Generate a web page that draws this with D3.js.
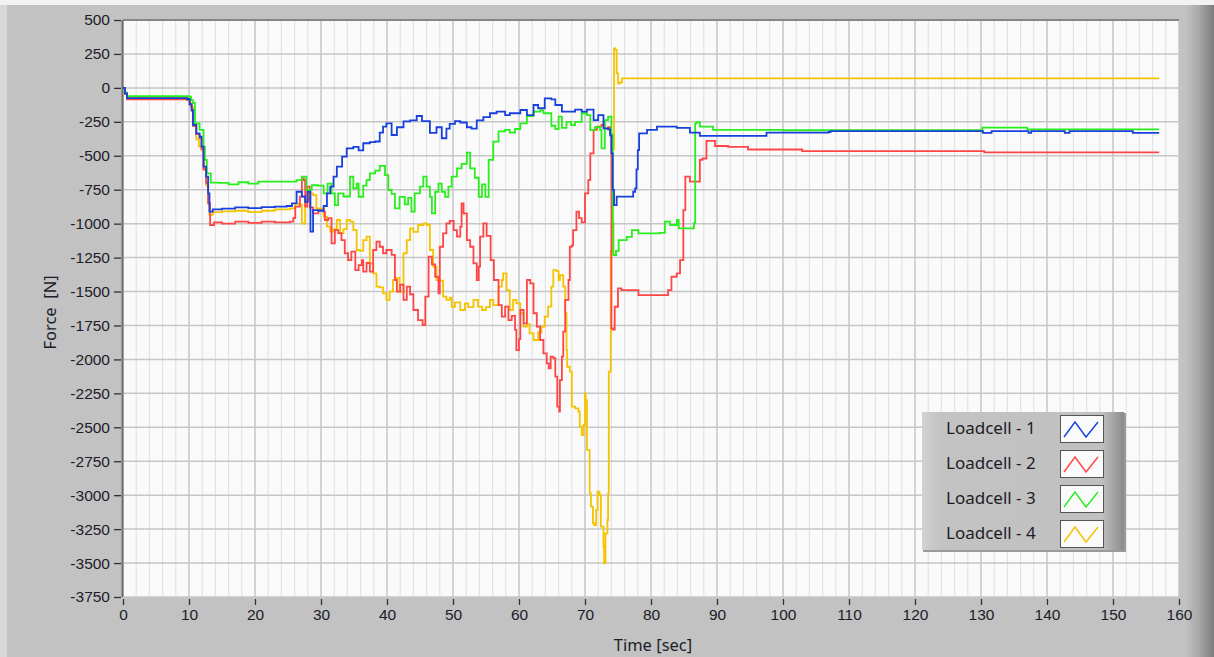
<!DOCTYPE html>
<html>
<head>
<meta charset="utf-8">
<script src="https://cdn.jsdelivr.net/npm/d3@7"></script>
<style>
  body { margin: 0; background: #c2c2c2; }
  svg { display: block; font-family: "Noto Sans", "Open Sans", sans-serif; }
  .tick text { fill: #1c1c28; font-size: 15.5px; }
  .tick line { stroke: #303030; stroke-width: 1.3; }
</style>
</head>
<body>
<div id="vis"></div>
<script>
// tick labels
var yTicks = [500, 250, 0, -250, -500, -750, -1000, -1250, -1500, -1750, -2000, -2250, -2500, -2750, -3000, -3250, -3500, -3750];
var xTicks = [0, 10, 20, 30, 40, 50, 60, 70, 80, 90, 100, 110, 120, 130, 140, 150, 160];

var seriesNames = ["Loadcell - 1", "Loadcell - 2", "Loadcell - 3", "Loadcell - 4"];

// [time sec, force N]
var loadcell1 = [[0,0],[0.3,-40],[0.6,-75],[9.7,-82],[10.1,-120],[10.4,-163],[10.6,-273],[11.1,-335],[11.6,-360],[11.9,-433],[12.2,-580],[12.6,-654],[12.9,-777],[13.1,-912],[13.6,-895],[15,-890],[17,-880],[19,-885],[21,-878],[23,-875],[24.8,-870],[25.6,-850],[26.3,-765],[27.1,-800],[27.6,-840],[28.0,-765],[28.4,-1059],[28.8,-900],[29.6,-905],[30.4,-870],[30.9,-777],[31.4,-728],[31.9,-654],[32.4,-580],[33.2,-507],[33.9,-445],[34.9,-435],[35.7,-460],[36.4,-408],[37.4,-400],[38.2,-395],[38.9,-330],[39.4,-286],[39.9,-261],[40.7,-347],[41.5,-290],[42.5,-247],[43.5,-240],[44.5,-207],[45.3,-245],[46.0,-245],[46.5,-332],[47.5,-290],[48.3,-371],[49.0,-300],[49.5,-265],[50.3,-245],[51.1,-255],[52.1,-290],[52.8,-300],[53.6,-240],[54.6,-215],[55.6,-187],[56.6,-175],[57.1,-175],[57.9,-200],[58.6,-187],[60.2,-163],[61.2,-200],[62.2,-126],[62.9,-150],[63.9,-77],[64.9,-85],[65.5,-126],[66.5,-175],[67.5,-175],[68.5,-160],[69.5,-175],[70.3,-160],[71.3,-237],[72.0,-200],[72.8,-298],[73.5,-305],[73.8,-350],[74.0,-482],[74.2,-752],[74.4,-863],[74.8,-801],[77.3,-765],[77.6,-740],[77.8,-600],[78.0,-458],[78.2,-335],[79.4,-310],[80.9,-286],[83.9,-295],[85.9,-330],[87.4,-354],[97,-354],[97.5,-330],[106.9,-325],[107.2,-318],[130,-318],[130.3,-332],[131.3,-332],[131.6,-318],[137,-318],[137.2,-332],[137.6,-318],[142.5,-318],[142.7,-332],[143.4,-318],[152.8,-318],[153,-332],[157,-332]];

var loadcell2 = [[0,0],[0.3,-45],[0.6,-85],[9.7,-88],[10.1,-125],[10.4,-170],[10.6,-280],[11.1,-340],[11.6,-370],[11.9,-450],[12.2,-600],[12.6,-700],[12.9,-850],[13.2,-1010],[13.8,-990],[15,-1000],[17,-985],[19,-995],[21,-985],[23,-990],[25.3,-985],[25.8,-960],[26.1,-875],[26.8,-801],[27.1,-666],[27.4,-680],[27.6,-875],[27.9,-728],[28.3,-880],[28.8,-924],[29.6,-900],[30.4,-912],[30.6,-973],[31.1,-960],[31.6,-1145],[32.1,-1047],[32.6,-1070],[33.1,-1121],[33.6,-1218],[34.1,-1268],[34.6,-1206],[35.2,-1342],[35.7,-1305],[36.2,-1268],[36.4,-1354],[36.9,-1290],[37.4,-1354],[37.9,-1194],[38.4,-1133],[38.9,-1170],[39.4,-1218],[39.9,-1194],[40.7,-1230],[41.2,-1415],[41.5,-1501],[42.0,-1450],[42.5,-1562],[43.0,-1464],[43.5,-1520],[44.0,-1636],[44.7,-1710],[45.4,-1747],[45.8,-1537],[46.3,-1243],[46.8,-1300],[47.3,-1391],[47.8,-1513],[48.0,-1170],[48.5,-1071],[49.0,-998],[49.5,-980],[50.1,-1047],[50.6,-1096],[51.1,-1023],[51.3,-850],[51.6,-924],[52.1,-1121],[52.6,-1170],[53.1,-1293],[53.6,-1415],[53.9,-1317],[54.1,-1096],[54.6,-998],[55.1,-1090],[55.7,-1268],[56.2,-1415],[56.9,-1600],[57.4,-1685],[57.9,-1611],[58.4,-1710],[58.9,-1680],[59.4,-1783],[59.6,-1931],[60.0,-1850],[60.2,-1636],[60.7,-1734],[61.2,-1415],[61.7,-1440],[62.2,-1660],[62.7,-1758],[63.2,-1857],[63.7,-1955],[64.2,-2029],[64.5,-2066],[64.8,-1980],[65.2,-1990],[65.5,-2127],[65.8,-2348],[66.1,-2385],[66.2,-2152],[66.5,-1980],[66.7,-1796],[67.0,-1562],[67.5,-1415],[67.7,-1170],[68.0,-1160],[68.2,-1047],[68.7,-912],[69.1,-960],[69.5,-990],[70.0,-777],[70.5,-679],[70.8,-482],[71.3,-310],[71.8,-286],[72.5,-273],[73.0,-300],[73.5,-290],[73.8,-335],[74.0,-1771],[74.2,-1780],[74.5,-1612],[75.0,-1477],[75.5,-1490],[77.6,-1490],[78.1,-1526],[82.4,-1526],[82.6,-1490],[83.1,-1391],[83.9,-1366],[84.4,-1268],[84.9,-900],[85.2,-654],[85.9,-690],[86.7,-690],[87.4,-531],[87.8,-520],[88.4,-391],[89.7,-428],[91.7,-435],[94.7,-454],[102.9,-466],[130.3,-466],[130.5,-475],[157,-475]];

var loadcell3 = [[0,0],[0.3,-35],[0.6,-60],[9.9,-65],[10.3,-90],[10.6,-110],[10.9,-261],[11.6,-310],[12.2,-433],[12.4,-531],[12.7,-630],[13.3,-698],[14.5,-700],[16,-710],[17.5,-695],[19,-705],[20.5,-690],[22.3,-691],[24,-690],[26.3,-680],[27.1,-654],[27.8,-752],[28.6,-717],[29.5,-720],[30.4,-777],[31.0,-705],[31.6,-777],[32.1,-863],[32.6,-777],[33.4,-800],[34.4,-654],[34.9,-740],[35.4,-705],[35.7,-802],[36.4,-720],[36.9,-680],[37.4,-629],[38.2,-610],[38.9,-575],[39.7,-643],[40.2,-752],[40.7,-780],[41.2,-887],[41.9,-803],[42.7,-857],[43.2,-810],[43.7,-912],[44.2,-777],[45.0,-728],[45.5,-654],[46.0,-728],[46.5,-803],[46.8,-924],[47.3,-765],[47.8,-705],[48.3,-765],[48.8,-803],[49.3,-728],[49.8,-654],[50.6,-593],[51.3,-560],[52.1,-477],[52.6,-593],[53.3,-662],[53.9,-803],[54.4,-710],[54.9,-803],[55.4,-531],[56.1,-396],[56.9,-320],[57.9,-310],[58.6,-330],[59.4,-303],[60.2,-261],[61.2,-207],[62.2,-175],[63.2,-165],[63.7,-187],[64.4,-187],[64.9,-279],[65.5,-303],[66.0,-212],[66.5,-294],[67.2,-250],[67.9,-275],[68.5,-250],[69.5,-187],[70.3,-200],[70.8,-311],[71.5,-290],[72.3,-311],[72.5,-445],[73.0,-237],[73.5,-212],[74.0,-347],[74.2,-998],[74.3,-1231],[74.7,-1200],[75.1,-1121],[76.3,-1097],[77.1,-1047],[78.1,-1072],[81.3,-1068],[82.1,-985],[82.9,-1010],[83.9,-972],[84.1,-975],[84.2,-1035],[86.2,-1035],[86.5,-997],[86.7,-261],[86.9,-253],[87.4,-286],[89.4,-310],[100,-312],[130,-313],[130.2,-292],[136.7,-292],[137,-305],[157,-305]];

var loadcell4 = [[0,0],[0.3,-40],[0.6,-70],[9.7,-72],[10.1,-110],[10.3,-140],[10.6,-280],[11.1,-380],[11.5,-430],[11.9,-460],[12.2,-600],[12.6,-720],[12.9,-850],[13.1,-935],[13.6,-915],[15,-910],[17,-905],[19,-915],[21,-905],[23,-895],[25.3,-887],[26.1,-850],[26.6,-860],[27.1,-998],[27.4,-1000],[27.6,-826],[28.3,-777],[28.8,-790],[29.3,-887],[29.9,-890],[30.4,-949],[30.9,-1022],[31.4,-1059],[31.9,-1040],[32.4,-973],[32.9,-1071],[33.4,-1040],[33.9,-973],[34.4,-985],[34.9,-1047],[35.4,-1194],[35.9,-1200],[36.4,-1121],[36.9,-1096],[37.4,-1292],[37.9,-1366],[38.4,-1464],[38.9,-1470],[39.4,-1513],[39.9,-1562],[40.4,-1500],[40.9,-1415],[41.4,-1400],[41.9,-1500],[42.5,-1218],[43.0,-1121],[43.5,-1035],[44.0,-1060],[44.7,-1010],[45.5,-998],[46.0,-1010],[46.5,-1194],[47.0,-1317],[47.5,-1415],[48.0,-1420],[48.5,-1538],[49.0,-1562],[49.5,-1545],[49.8,-1612],[50.3,-1580],[51.1,-1636],[51.8,-1587],[52.3,-1615],[53.1,-1562],[53.8,-1611],[54.4,-1636],[55.0,-1615],[55.6,-1562],[56.1,-1600],[56.9,-1464],[57.4,-1415],[57.6,-1366],[58.1,-1489],[58.6,-1636],[59.1,-1562],[59.6,-1587],[60.2,-1660],[60.7,-1759],[61.2,-1740],[61.6,-1808],[62.2,-1857],[62.9,-1800],[63.4,-1759],[63.9,-1685],[64.4,-1611],[64.9,-1464],[65.2,-1342],[65.7,-1350],[66.0,-1415],[66.2,-1380],[66.7,-1464],[67.0,-1660],[67.2,-1931],[67.3,-2054],[67.7,-2090],[68.0,-2348],[68.5,-2360],[69.0,-2385],[69.2,-2495],[69.5,-2557],[69.8,-2483],[70.0,-2250],[70.1,-2300],[70.3,-2667],[70.7,-2987],[70.9,-3085],[71.2,-3208],[71.4,-3220],[71.7,-3110],[71.9,-2974],[72.2,-3000],[72.4,-3232],[72.8,-3380],[72.9,-3503],[73.05,-3500],[73.1,-3282],[73.4,-3183],[73.5,-2987],[73.6,-2090],[73.9,-1200],[74.2,-450],[74.4,291],[74.6,280],[74.8,107],[75.0,34],[75.3,40],[75.6,70],[157,70]];

var seriesColors = ["#1840dc", "#ff4646", "#28ee1c", "#f5c300"];

var W = 1214, H = 657;
var margin = {top: 20, right: 35, bottom: 60, left: 123},
    width = W - margin.left - margin.right,
    height = H - margin.top - margin.bottom;

var svg = d3.select("#vis")
    .append("svg")
    .attr("width", W)
    .attr("height", H);

var defs = svg.append("defs");

////////// frame //////////

var side = defs.append("linearGradient").attr("id", "sideGrad");
side.append("stop").attr("offset", "0%").attr("stop-color", "#c0c0c0");
side.append("stop").attr("offset", "45%").attr("stop-color", "#a9a9a9");
side.append("stop").attr("offset", "100%").attr("stop-color", "#7c7c7c");

svg.append("rect").attr("width", W).attr("height", H).attr("fill", "#c2c2c2");
svg.append("rect").attr("width", W).attr("height", 5).attr("fill", "#f2f2f2");
svg.append("rect").attr("y", 5).attr("width", 7).attr("height", H - 5).attr("fill", "#d8d8d8");
svg.append("rect").attr("x", 1186).attr("y", 5).attr("width", W - 1186).attr("height", H - 5).attr("fill", "url(#sideGrad)");

////////// scales //////////

var x = d3.scaleLinear().domain([0, 160]).range([margin.left, margin.left + width]);
var y = d3.scaleLinear().domain([-3750, 500]).range([margin.top + height, margin.top]);

var plot = svg.append("g");

plot.append("rect")
    .attr("x", x(0)).attr("y", y(500))
    .attr("width", width).attr("height", height)
    .attr("fill", "#fafafa");

// minor grid every 2 sec
plot.append("g").selectAll("line")
    .data(d3.range(0, 161, 2).filter(function (d) { return d % 10 !== 0; }))
    .enter().append("line")
    .attr("x1", x).attr("x2", x)
    .attr("y1", y(500)).attr("y2", y(-3750))
    .attr("stroke", "#e3e3e3").attr("stroke-width", 1.2);

plot.append("g").selectAll("line")
    .data(xTicks)
    .enter().append("line")
    .attr("x1", x).attr("x2", x)
    .attr("y1", y(500)).attr("y2", y(-3750))
    .attr("stroke", "#c6c6c6").attr("stroke-width", 1.5);

plot.append("g").selectAll("line")
    .data(yTicks)
    .enter().append("line")
    .attr("x1", x(0)).attr("x2", x(160))
    .attr("y1", y).attr("y2", y)
    .attr("stroke", "#c6c6c6").attr("stroke-width", 1.5);

// borders
plot.append("line").attr("x1", x(0)).attr("x2", x(160)).attr("y1", y(500)).attr("y2", y(500))
    .attr("stroke", "#6e6e6e").attr("stroke-width", 1.5);
plot.append("line").attr("x1", x(0) - 0.5).attr("x2", x(0) - 0.5).attr("y1", y(500)).attr("y2", y(-3750))
    .attr("stroke", "#6e6e6e").attr("stroke-width", 2);

////////// axes //////////

var plain = function (d) { return String(d); };

svg.append("g")
    .attr("transform", "translate(" + (x(0) - 2) + ",0)")
    .call(d3.axisLeft(y).tickValues(yTicks).tickSize(7).tickPadding(4).tickFormat(plain))
    .call(function (g) { g.select(".domain").remove(); });

svg.append("g")
    .attr("transform", "translate(0," + (y(-3750) + 2) + ")")
    .call(d3.axisBottom(x).tickValues(xTicks).tickSize(6).tickPadding(4).tickFormat(plain))
    .call(function (g) { g.select(".domain").remove(); });

svg.append("text")
    .attr("transform", "translate(56," + (margin.top + height / 2 + 4) + ") rotate(-90)")
    .attr("text-anchor", "middle")
    .attr("fill", "#1c1c28")
    .style("font-size", "16.5px")
    .style("white-space", "pre")
    .text("Force  [N]");

svg.append("text")
    .attr("x", margin.left + width / 2 + 2)
    .attr("y", 651)
    .attr("text-anchor", "middle")
    .attr("fill", "#1c1c28")
    .style("font-size", "16.5px")
    .text("Time [sec]");

////////// lines //////////

defs.append("clipPath").attr("id", "clip")
    .append("rect")
    .attr("x", x(0)).attr("y", y(500))
    .attr("width", width).attr("height", height);

var line = d3.line()
    .curve(d3.curveStepAfter)
    .x(function (d) { return x(d[0]); })
    .y(function (d) { return y(d[1]); });

var allSeries = [loadcell1, loadcell2, loadcell3, loadcell4];
var drawOrder = [3, 1, 2, 0];

var lines = svg.append("g").attr("clip-path", "url(#clip)");
drawOrder.forEach(function (i) {
    lines.append("path")
        .datum(allSeries[i])
        .attr("d", line)
        .attr("fill", "none")
        .attr("stroke", seriesColors[i])
        .attr("stroke-width", 1.8);
});

////////// legend //////////

var lg = defs.append("linearGradient").attr("id", "legGrad");
lg.append("stop").attr("offset", "0%").attr("stop-color", "#d2d2d2");
lg.append("stop").attr("offset", "9%").attr("stop-color", "#c3c3c3");
lg.append("stop").attr("offset", "89%").attr("stop-color", "#c0c0c0");
lg.append("stop").attr("offset", "94%").attr("stop-color", "#a8a8a8");
lg.append("stop").attr("offset", "100%").attr("stop-color", "#8a8a8a");

var legend = svg.append("g").attr("transform", "translate(922,412)");

legend.append("rect")
    .attr("x", 1).attr("y", 1).attr("width", 203).attr("height", 139)
    .attr("fill", "#9a9a9a");
legend.append("rect")
    .attr("width", 202).attr("height", 138)
    .attr("fill", "url(#legGrad)");

var rows = legend.selectAll("g.row")
    .data(seriesNames)
    .enter().append("g")
    .attr("class", "row")
    .attr("transform", function (d, i) { return "translate(0," + (i * 35) + ")"; });

rows.append("text")
    .attr("x", 24).attr("y", 22)
    .attr("fill", "#1c1c28")
    .style("font-size", "17px")
    .text(function (d) { return d; });

rows.append("rect")
    .attr("x", 138.5).attr("y", 3.5).attr("width", 43).attr("height", 27)
    .attr("fill", "#fafafa")
    .attr("stroke", "#555").attr("stroke-width", 1);

rows.append("path")
    .attr("d", "M142,25 L153,10 L164,25 L176,10")
    .attr("fill", "none")
    .attr("stroke", function (d, i) { return seriesColors[i]; })
    .attr("stroke-width", 1.4);
</script>
</body>
</html>
